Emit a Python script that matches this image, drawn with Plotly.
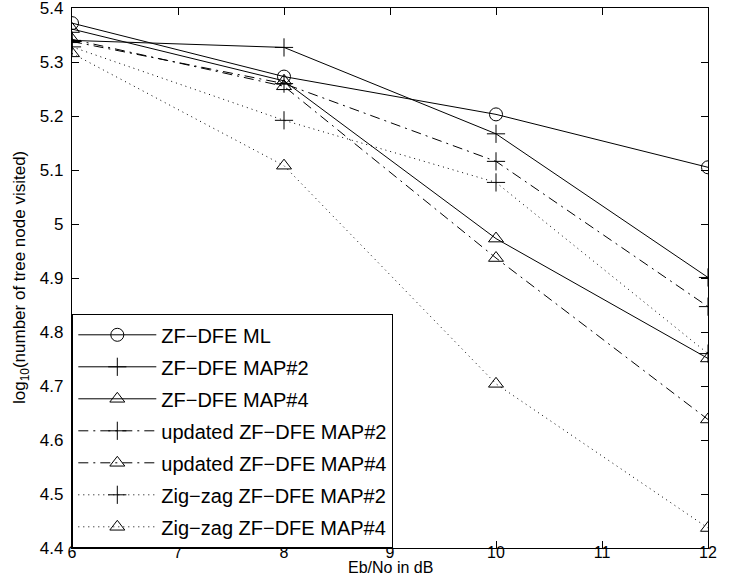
import plotly.graph_objects as go

snr_db = [6, 8, 10, 12]

zf_ml = [5.372, 5.273, 5.203, 5.105]
zf_map2 = [5.340, 5.327, 5.167, 4.901]
zf_map4 = [5.361, 5.265, 4.973, 4.751]
upd_map2 = [5.338, 5.260, 5.116, 4.847]
upd_map4 = [5.342, 5.255, 4.937, 4.638]
zig_map2 = [5.328, 5.192, 5.077, 4.760]
zig_map4 = [5.316, 5.108, 4.704, 4.437]

x_ticks = [6, 7, 8, 9, 10, 11, 12]
y_ticks = [4.4, 4.5, 4.6, 4.7, 4.8, 4.9, 5.0, 5.1, 5.2, 5.3, 5.4]
y_tick_text = ["4.4", "4.5", "4.6", "4.7", "4.8", "4.9", "5", "5.1", "5.2", "5.3", "5.4"]

DASHDOT = "10px,5px,2px,5px"
DOTTED = "1px,4px"

series = [
    ("ZF\u2212DFE ML", zf_ml, "solid", "circle-open"),
    ("ZF\u2212DFE MAP#2", zf_map2, "solid", "cross-thin-open"),
    ("ZF\u2212DFE MAP#4", zf_map4, "solid", "triangle-up-open"),
    ("updated ZF\u2212DFE MAP#2", upd_map2, DASHDOT, "cross-thin-open"),
    ("updated ZF\u2212DFE MAP#4", upd_map4, DASHDOT, "triangle-up-open"),
    ("Zig\u2212zag ZF\u2212DFE MAP#2", zig_map2, DOTTED, "cross-thin-open"),
    ("Zig\u2212zag ZF\u2212DFE MAP#4", zig_map4, DOTTED, "triangle-up-open"),
]

fig = go.Figure()
for i, (name, vals, dash, sym) in enumerate(series):
    fig.add_trace(go.Scatter(
        x=snr_db, y=vals, name=name, mode="lines+markers",
        legendgroup=f"g{i}",
        line=dict(color="black", width=1, dash=dash),
        marker=dict(symbol=sym, size=13, color="black",
                    line=dict(color="black", width=1)),
    ))

axis_common = dict(
    showgrid=False, zeroline=False, showline=True, linecolor="black",
    linewidth=1.3, mirror="ticks", ticks="inside", ticklen=7,
    tickcolor="black", automargin=False, ticklabeloverflow="allow",
)

PLOT_L, PLOT_R, PLOT_T, PLOT_B = 72, 35, 8, 28
plot_w = 743 - PLOT_L - PLOT_R
plot_h = 576 - PLOT_T - PLOT_B

fig.update_layout(
    width=743, height=576,
    margin=dict(l=PLOT_L, r=PLOT_R, t=PLOT_T, b=PLOT_B),
    paper_bgcolor="white", plot_bgcolor="white",
    font=dict(family="Liberation Sans, Arial, sans-serif", color="black", size=17),
    xaxis=dict(range=[6, 12], tickvals=x_ticks, ticklabelstandoff=-10,
               tickfont=dict(size=16, color="black"), **axis_common),
    yaxis=dict(range=[4.4, 5.4], tickvals=y_ticks, ticktext=y_tick_text,
               ticklabelstandoff=4, tickfont=dict(size=17, color="black"),
               **axis_common),
    showlegend=True,
    legend=dict(x=0, y=0, xanchor="left", yanchor="bottom",
                bgcolor="white", bordercolor="black", borderwidth=1.3,
                font=dict(size=20, color="black"),
                itemwidth=78, tracegroupgap=3),
    annotations=[
        dict(text="Eb/No in dB", xref="paper", yref="paper",
             x=0.5, y=-19 / plot_h, xanchor="center", yanchor="middle",
             showarrow=False, font=dict(size=16)),
        dict(text="log<sub>10</sub>(number of tree node visited)",
             xref="paper", yref="paper", x=-(PLOT_L - 21) / plot_w, y=0.5,
             xanchor="center", yanchor="middle", textangle=-90,
             showarrow=False, font=dict(size=17)),
    ],
)

fig.write_html("out.html")
